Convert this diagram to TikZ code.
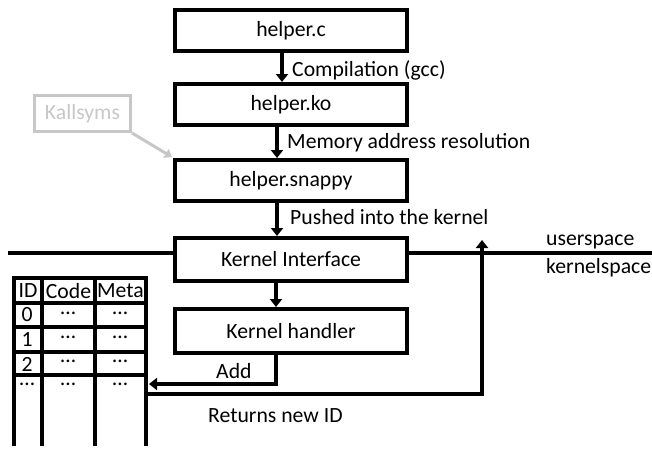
\documentclass[tikz,border=0pt]{standalone}
\usepackage{fontspec}
\setmainfont{Carlito}
\usetikzlibrary{arrows.meta}
\begin{document}
\begin{tikzpicture}[x=1pt,y=-1pt,
  every node/.style={font=\fontsize{21.7}{25}\selectfont},
  box/.style={draw,line width=4pt,minimum width=232pt,minimum height=41pt,inner sep=0pt},
  arr/.style={line width=4pt,-{Triangle[width=12pt,length=8pt]}},
  plain/.style={line width=4pt},
  lbl/.style={anchor=west,inner sep=0pt},
  cell/.style={inner sep=0pt},
  grayc/.style={draw=black!22,text=black!22,line width=3pt}]
\useasboundingbox (0,0) rectangle (652,450);
% main boxes
\node[box] (c)  at (291,30.5)  {helper.c};
\node[box] (ko) at (291,104.5) {helper.ko};
\node[box] (sn) at (291,180.5) {helper.snappy};
\node[box,minimum height=43pt] (ki) at (291,259.5) {Kernel Interface};
\node[box,minimum height=44pt] (kh) at (291,331) {Kernel handler};
% vertical arrows
\draw[arr] ([xshift=-9pt]c.south) -- ([xshift=-9pt]ko.north);
\draw[arr] ([xshift=-14pt]ko.south) -- ([xshift=-14pt]sn.north);
\draw[arr] ([xshift=-14pt]sn.south) -- ([xshift=-14pt]ki.north);
\draw[arr] ([xshift=-15pt]ki.south) -- ([xshift=-15pt]kh.north);
\node[lbl] (l1) at (292,70) {Compilation (gcc)};
\node[lbl] (l2) at (287,143) {Memory address resolution};
\node[lbl] (l3) at (290,217) {Pushed into the kernel};
% divider
\coordinate (dl) at (8,253);
\coordinate (dr) at (652,253);
\draw[plain] (dl) -- (dl -| ki.west);
\draw[plain] (dr -| ki.east) -- (dr);
\node[lbl] (us) at (546,242) {userspace};
\node[lbl] (ks) at (546,268) {kernelspace};
% table
\begin{scope}[line width=3.5pt]
\draw (14,446) -- (14,278) -- (146,278) -- (146,446);
\draw (42,278) -- (42,446);
\draw (95,278) -- (95,446);
\foreach \yy in {303,327,352,375} \draw (14,\yy) -- (146,\yy);
\end{scope}
\node[cell] (hid) at (28,291) {ID};
\node[cell] (hcode) at (68.5,291) {Code};
\node[cell] (hmeta) at (120.5,291) {Meta};
\node[cell] (r0) at (27,315) {0};
\node[cell] (r1) at (27,340) {1};
\node[cell] (r2) at (27,364) {2};
\node[cell] (r3) at (27,384) {\ldots};
\foreach \yy/\nm in {313/a,337/b,361/c,384/d} {
  \node[cell] (cc\nm) at (68,\yy) {\ldots};
  \node[cell] (cm\nm) at (120,\yy) {\ldots};
}
\coordinate (tadd) at (149,384);
\coordinate (tret) at (146,394);
% add arrow
\coordinate (addc) at ([xshift=-15pt]kh.south);
\draw[line width=4pt,-{Triangle[width=12pt,length=8pt]}] (addc) |- (tadd);
\node[lbl] (add) at (216,371) {Add};
% return arrow
\coordinate (retc) at (482,240);
\draw[arr] (tret) -| (retc);
\node[lbl] (ret) at (208,416) {Returns new ID};
% kallsyms
\node[grayc,minimum width=96pt,minimum height=36pt,inner sep=0pt] (ka) at (82.5,113.5) {Kallsyms};
\draw[draw=black!22,line width=3pt,-{Triangle[width=10pt,length=7pt]}] (ka.south east) -- (172,157);
\end{tikzpicture}
\end{document}
